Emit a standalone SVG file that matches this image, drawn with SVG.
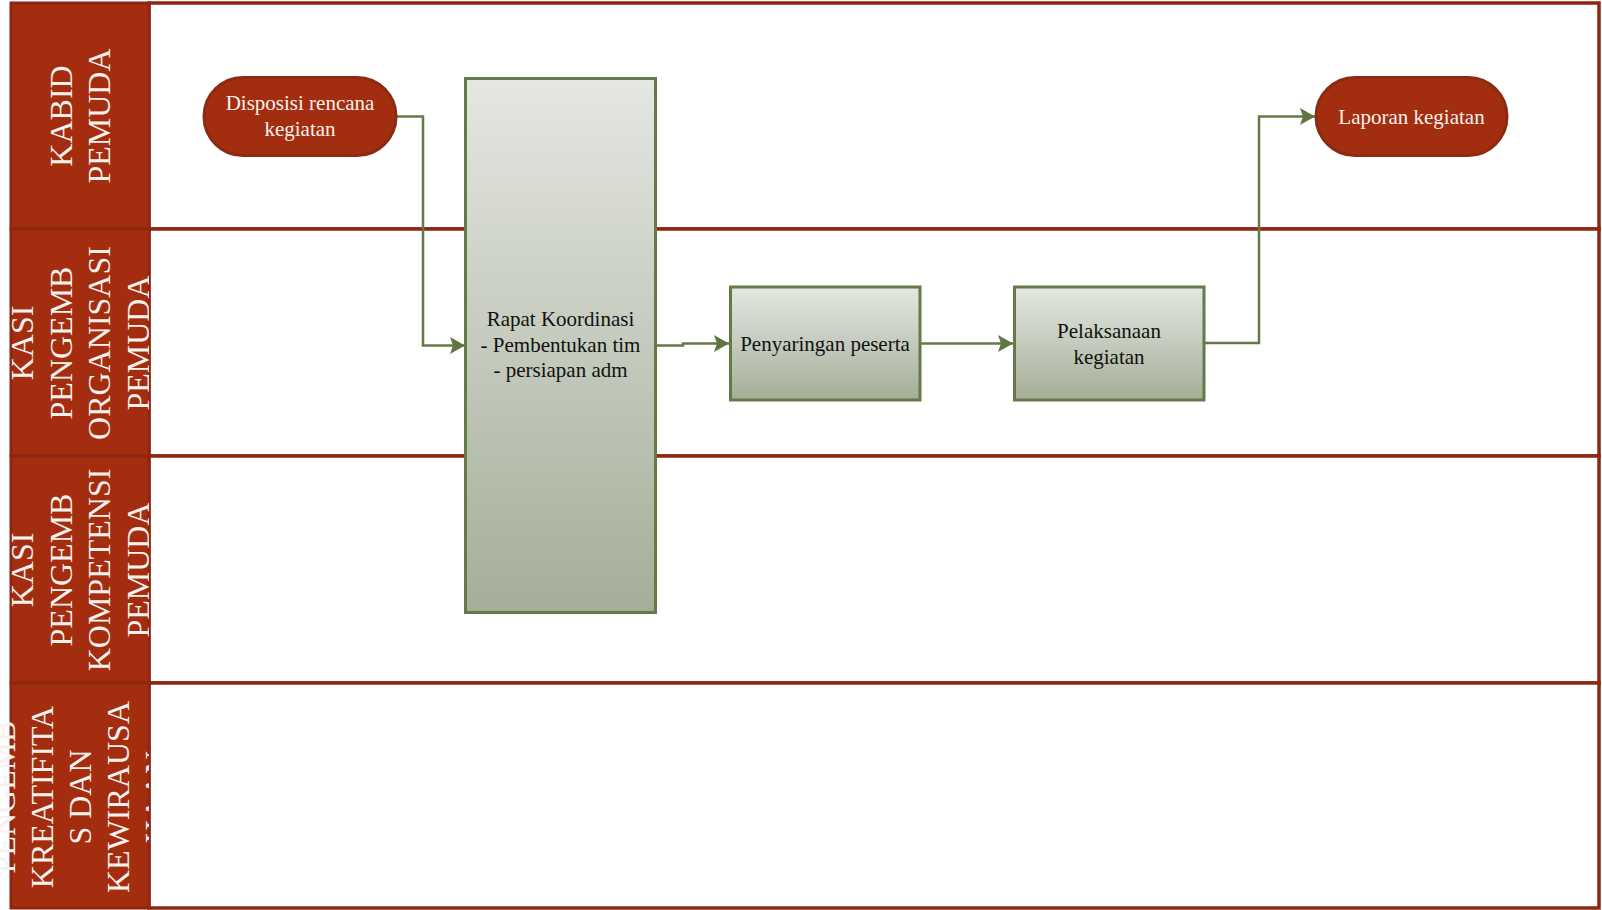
<svg xmlns="http://www.w3.org/2000/svg" width="1602" height="910" viewBox="0 0 1602 910">
<style>
.lbl{fill:#A42D0F;stroke:#8E2610;stroke-width:3}
.cell{fill:#FFFFFF;stroke:#8E2610;stroke-width:3.5}
.lt{font-family:"Liberation Serif","Times New Roman",serif;font-size:32px;fill:#F7F1EE;text-anchor:middle}
.term{fill:#A32D0F;stroke:#8C2A12;stroke-width:3}
.tt{font-family:"Liberation Serif","Times New Roman",serif;font-size:21px;fill:#F7F1EE;text-anchor:middle}
.proc{fill:url(#g);stroke:#647A49;stroke-width:3}
.pt{font-family:"Liberation Serif","Times New Roman",serif;font-size:21px;fill:#111111;text-anchor:middle}
.con{fill:none;stroke:#637A47;stroke-width:2.5;marker-end:url(#arr)}
</style>
<defs>
<linearGradient id="g" x1="0" y1="0" x2="0" y2="1">
<stop offset="0" stop-color="#E5E7E2"/>
<stop offset="1" stop-color="#A4AE98"/>
</linearGradient>
<marker id="arr" markerUnits="userSpaceOnUse" markerWidth="16" markerHeight="18" refX="15" refY="8.5" orient="auto">
<path d="M0,0 L15,8.5 L0,17 L3,8.5 Z" fill="#5F7643"/>
</marker>
<clipPath id="c1"><rect x="11" y="3" width="138" height="226"/></clipPath>
<clipPath id="c2"><rect x="0" y="229" width="149" height="227"/></clipPath>
<clipPath id="c3"><rect x="0" y="456" width="149" height="227"/></clipPath>
<clipPath id="c4"><rect x="0" y="683" width="149" height="226"/></clipPath>
</defs>

<g id="lanes">
<rect class="cell" x="149" y="3" width="1450" height="226"/>
<rect class="cell" x="149" y="229" width="1450" height="227"/>
<rect class="cell" x="149" y="456" width="1450" height="227"/>
<rect class="cell" x="149" y="683" width="1450" height="225"/>
<rect class="lbl" x="11" y="3" width="138" height="226"/>
<rect class="lbl" x="11" y="229" width="138" height="227"/>
<rect class="lbl" x="11" y="456" width="138" height="227"/>
<rect class="lbl" x="11" y="683" width="138" height="225"/>
</g>

<g id="lane-labels">
<g clip-path="url(#c1)">
<text class="lt" transform="translate(80,116) rotate(-90)"><tspan x="0" y="-8">KABID</tspan><tspan x="0" y="30">PEMUDA</tspan></text>
</g>
<g clip-path="url(#c2)">
<text class="lt" transform="translate(80,343) rotate(-90)"><tspan x="0" y="-47">KASI</tspan><tspan x="0" y="-8.5">PENGEMB</tspan><tspan x="0" y="30">ORGANISASI</tspan><tspan x="0" y="68.5">PEMUDA</tspan></text>
</g>
<g clip-path="url(#c3)">
<text class="lt" transform="translate(80,570) rotate(-90)"><tspan x="0" y="-47">KASI</tspan><tspan x="0" y="-8.5">PENGEMB</tspan><tspan x="0" y="30">KOMPETENSI</tspan><tspan x="0" y="68.5">PEMUDA</tspan></text>
</g>
<g clip-path="url(#c4)">
<text class="lt" transform="translate(80,797) rotate(-90)"><tspan x="0" y="-65">PENGEMB</tspan><tspan x="0" y="-27">KREATIFITA</tspan><tspan x="0" y="11">S DAN</tspan><tspan x="0" y="49">KEWIRAUSA</tspan><tspan x="0" y="87">HAAN</tspan></text>
</g>
</g>

<g id="connectors">
<path class="con" d="M396,116.5 H423 V345.5 H465"/>
<path class="con" d="M655.5,345.5 H683 V343.5 H729"/>
<path class="con" d="M920,343.5 H1013"/>
<path class="con" d="M1204,343 H1259 V116.5 H1315"/>
</g>

<g id="n-disposisi">
<rect class="term" x="204" y="77.5" width="192" height="78" rx="39" ry="39"/>
<text class="tt"><tspan x="300" y="110">Disposisi rencana</tspan><tspan x="300" y="136">kegiatan</tspan></text>
</g>

<g id="n-rapat">
<rect class="proc" x="465.5" y="78.5" width="190" height="534"/>
<text class="pt"><tspan x="560.5" y="326">Rapat Koordinasi</tspan><tspan x="560.5" y="352">- Pembentukan tim</tspan><tspan x="560.5" y="377">- persiapan adm</tspan></text>
</g>

<g id="n-penyaringan">
<rect class="proc" x="730.5" y="287" width="189.5" height="113"/>
<text class="pt" x="825" y="350.5">Penyaringan peserta</text>
</g>

<g id="n-pelaksanaan">
<rect class="proc" x="1014.5" y="287" width="189.5" height="113"/>
<text class="pt"><tspan x="1109" y="338">Pelaksanaan</tspan><tspan x="1109" y="363.5">kegiatan</tspan></text>
</g>

<g id="n-laporan">
<rect class="term" x="1316" y="77.5" width="191" height="78" rx="39" ry="39"/>
<text class="tt" x="1411.5" y="123.5">Laporan kegiatan</text>
</g>
</svg>
